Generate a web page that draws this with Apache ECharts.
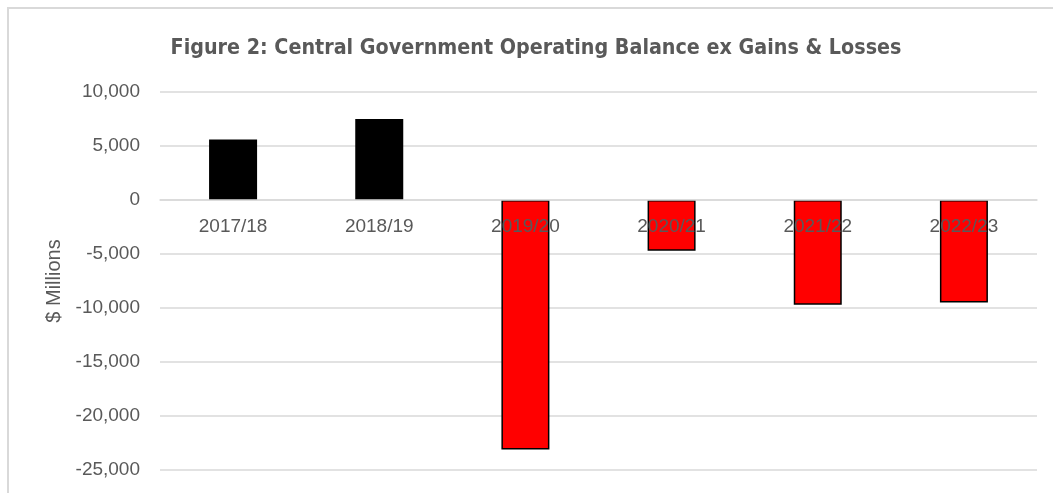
<!DOCTYPE html>
<html>
<head>
<meta charset="utf-8">
<script src="https://cdn.jsdelivr.net/npm/echarts@6/dist/echarts.min.js"></script>
<style>
  html, body { margin: 0; padding: 0; background: #fff; }
  #chart { width: 1053px; height: 493px; }
</style>
</head>
<body>
<div id="chart"></div>
<script>
// Fiscal years
const years = ['2017/18', '2018/19', '2019/20', '2020/21', '2021/22', '2022/23'];
// Operating balance excluding gains & losses, $ millions
const operatingBalance = [5600, 7500, -23100, -4700, -9700, -9500];
// Value axis range and step
const axisMin = -25000;
const axisMax = 10000;
const axisStep = 5000;

const chart = echarts.init(document.getElementById('chart'), null, { renderer: 'canvas' });

const labelFont = 'Liberation Sans, Arial, sans-serif';
const gridGray = '#d9d9d9';
const textGray = '#595959';

// Plot area box
const gridBox = { left: 160, right: 16, top: 92, bottom: 23 };
const plotHeight = 493 - gridBox.top - gridBox.bottom;
// Lift the category axis from the bottom edge up to the zero line
const zeroLift = plotHeight * (0 - axisMin) / (axisMax - axisMin);

chart.setOption({
  backgroundColor: '#ffffff',
  animation: false,
  title: {
    text: 'Figure 2: Central Government Operating Balance ex Gains & Losses',
    left: 531,
    textAlign: 'center',
    top: 33,
    textStyle: {
      fontFamily: 'Liberation Sans Narrow, DejaVu Sans Condensed, sans-serif',
      fontWeight: 'bold',
      fontSize: 21.3,
      color: textGray
    }
  },
  graphic: [{
    type: 'rect',
    silent: true,
    shape: { x: 8, y: 8, width: 1200, height: 700 },
    style: { fill: 'none', stroke: gridGray, lineWidth: 2 }
  }],
  grid: Object.assign({ containLabel: false, outerBoundsMode: 'none' }, gridBox),
  xAxis: {
    type: 'category',
    data: years,
    z: 5,
    offset: -zeroLift,
    axisLine: { show: true, onZero: false, lineStyle: { color: gridGray, width: 1.5 } },
    axisTick: { show: false },
    axisLabel: {
      color: textGray,
      fontFamily: labelFont,
      fontSize: 19,
      margin: 17
    },
    splitLine: { show: false }
  },
  yAxis: {
    type: 'value',
    min: axisMin,
    max: axisMax,
    interval: axisStep,
    name: '$ Millions',
    nameLocation: 'middle',
    nameRotate: 90,
    nameGap: 96,
    nameTextStyle: {
      color: textGray,
      fontFamily: labelFont,
      fontSize: 20
    },
    axisLine: { show: false },
    axisTick: { show: false },
    axisLabel: {
      color: textGray,
      fontFamily: labelFont,
      fontSize: 19,
      margin: 20,
      formatter: v => v.toLocaleString('en-US')
    },
    splitLine: { lineStyle: { color: gridGray, width: 1.5 } }
  },
  series: [{
    type: 'bar',
    data: operatingBalance,
    barWidth: 48,
    itemStyle: {
      color: p => (p.value >= 0 ? '#000000' : '#ff0000'),
      borderColor: '#000000',
      borderWidth: 1.5
    }
  }]
});
</script>
</body>
</html>
